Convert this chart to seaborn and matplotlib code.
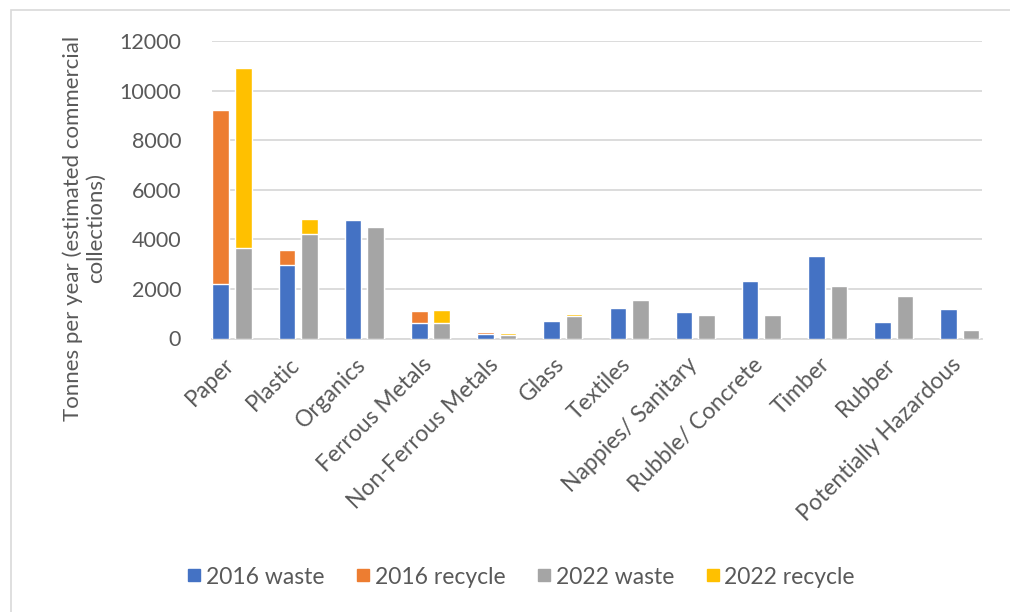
import matplotlib
matplotlib.use("Agg")
import matplotlib.pyplot as plt
from matplotlib.lines import Line2D
from matplotlib.patches import Rectangle
from matplotlib.transforms import ScaledTranslation
import numpy as np
import pandas as pd
import seaborn as sns

# Estimated commercial collections, tonnes per year
categories = ["Paper", "Plastic", "Organics", "Ferrous Metals", "Non-Ferrous Metals",
              "Glass", "Textiles", "Nappies/ Sanitary", "Rubble/ Concrete",
              "Timber", "Rubber", "Potentially Hazardous"]
waste_2016 = [2200, 2960, 4760, 620, 170, 690, 1220, 1060, 2310, 3340, 680, 1170]
recycle_2016 = [7020, 620, 0, 500, 80, 50, 0, 0, 0, 0, 0, 0]
waste_2022 = [3650, 4210, 4480, 640, 150, 900, 1540, 930, 930, 2110, 1720, 330]
recycle_2022 = [7250, 610, 0, 520, 90, 80, 0, 0, 0, 0, 0, 0]
years = ["2016", "2022"]
y_ticks = [0, 2000, 4000, 6000, 8000, 10000, 12000]

BLUE, ORANGE, GREY, YELLOW = "#4472C4", "#ED7D31", "#A5A5A5", "#FFC000"
TEXT = "#595959"
GRID = "#D9D9D9"

sns.set_theme(style="white")
plt.rcParams["font.family"] = ["Lato", "DejaVu Sans"]

rows = []
for i, cat in enumerate(categories):
    rows.append({"category": cat, "year": "2016", "waste": waste_2016[i],
                 "total": waste_2016[i] + recycle_2016[i]})
    rows.append({"category": cat, "year": "2022", "waste": waste_2022[i],
                 "total": waste_2022[i] + recycle_2022[i]})
df = pd.DataFrame(rows)

W, H = 1010, 612
fig = plt.figure(figsize=(W / 100, H / 100), dpi=100)
fig.patch.set_facecolor("white")
ax = fig.add_axes([211.7 / W, 1 - 338.5 / H, (981.7 - 211.7) / W, (338.5 - 41) / H])

common = dict(x="category", hue="year", hue_order=years, order=categories,
              width=0.68, gap=0.265, saturation=1, errorbar=None,
              legend=False, ax=ax, zorder=3)
# full stack height in the recycle colour, then the waste part on top of it
sns.barplot(data=df, y="total", palette={"2016": ORANGE, "2022": YELLOW}, **common)
sns.barplot(data=df, y="waste", palette={"2016": BLUE, "2022": GREY}, **common)

ax.set_xlim(-0.307, 11.33)
ax.set_ylim(0, 12000)
ax.set_yticks(y_ticks)
ax.set_yticklabels([str(v) for v in y_ticks])
ax.yaxis.grid(True, color=GRID, linewidth=1.3, zorder=0)
ax.xaxis.grid(False)
for side in ("top", "right", "left"):
    ax.spines[side].set_visible(False)
ax.spines["bottom"].set_color(GRID)
ax.spines["bottom"].set_linewidth(1.3)
ax.tick_params(axis="y", length=0, pad=22, labelsize=15.5, labelcolor=TEXT)
ax.tick_params(axis="x", length=0, pad=11, labelsize=16.5, labelcolor=TEXT)
shift = ScaledTranslation(-9 / 100, 0, fig.dpi_scale_trans)
for lbl in ax.get_xticklabels():
    lbl.set_rotation(45)
    lbl.set_ha("right")
    lbl.set_rotation_mode("anchor")
    lbl.set_transform(lbl.get_transform() + shift)
ax.set_xlabel("")
ax.set_ylabel("")

fig.text(84 / W, 1 - 228 / H,
         "Tonnes per year (estimated commercial\ncollections)",
         rotation=90, ha="center", va="center", multialignment="center",
         fontsize=16, color=TEXT, linespacing=1.2)

handles = [Line2D([], [], marker="s", linestyle="none", markersize=9,
                  markerfacecolor=c, markeredgecolor=c)
           for c in (BLUE, ORANGE, GREY, YELLOW)]
labels = ["2016 waste", "2016 recycle", "2022 waste", "2022 recycle"]
fig.legend(handles, labels, loc="center", bbox_to_anchor=(520 / W, 1 - 577 / H),
           ncol=4, frameon=False, fontsize=16.5, labelcolor=TEXT,
           handletextpad=0.1, columnspacing=1.3, handlelength=0.8)

# chart frame
fig.add_artist(Rectangle((11 / W, -0.05), 1.1, 1 - 10 / H + 0.05,
                         transform=fig.transFigure, fill=False,
                         edgecolor=GRID, linewidth=1.2))

fig.savefig("out.png", dpi=100, facecolor="white")
